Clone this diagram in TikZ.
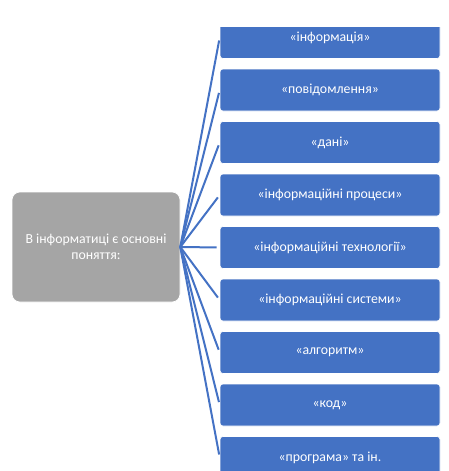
\documentclass[tikz,border=0pt]{standalone}
\usepackage{fontspec}
\setmainfont{Carlito}
\definecolor{boxblue}{HTML}{4472C4}
\definecolor{boxgray}{HTML}{A5A5A5}
\begin{document}
\begin{tikzpicture}[x=1pt,y=-1pt,
  rootbox/.style={fill=boxgray, draw=white, line width=0.6pt, rounded corners=8pt,
    minimum width=168pt, minimum height=110pt, text=white, align=center,
    font=\fontsize{13.8}{16}\selectfont, inner sep=0pt},
  itembox/.style={fill=boxblue, draw=white, line width=0.6pt, rounded corners=3pt,
    minimum width=220pt, minimum height=42pt, text=white, inner sep=0pt,
    font=\fontsize{13.8}{15}\selectfont},
  conn/.style={draw=boxblue, line width=2pt, shorten >=3pt}]
\useasboundingbox (0,0) rectangle (448,471);
\node[rootbox] (root) at (96,247) {В інформатиці є основні\\поняття:};
\begin{scope}
\clip (0,27) rectangle (448,471);
\node[itembox] (b1) at (330,37.5) {«інформація»};
\node[itembox] (b2) at (330,90) {«повідомлення»};
\node[itembox] (b3) at (330,142.5) {«дані»};
\node[itembox] (b4) at (330,195) {«інформаційні процеси»};
\node[itembox] (b5) at (330,247.5) {«інформаційні технології»};
\node[itembox] (b6) at (330,300) {«інформаційні системи»};
\node[itembox] (b7) at (330,352.5) {«алгоритм»};
\node[itembox] (b8) at (330,405) {«код»};
\node[itembox] (b9) at (330,457.5) {«програма» та ін.};
\end{scope}
\foreach \i in {1,...,9}{
  \draw[conn] (root.east) -- (b\i.west);
}
\end{tikzpicture}
\end{document}
